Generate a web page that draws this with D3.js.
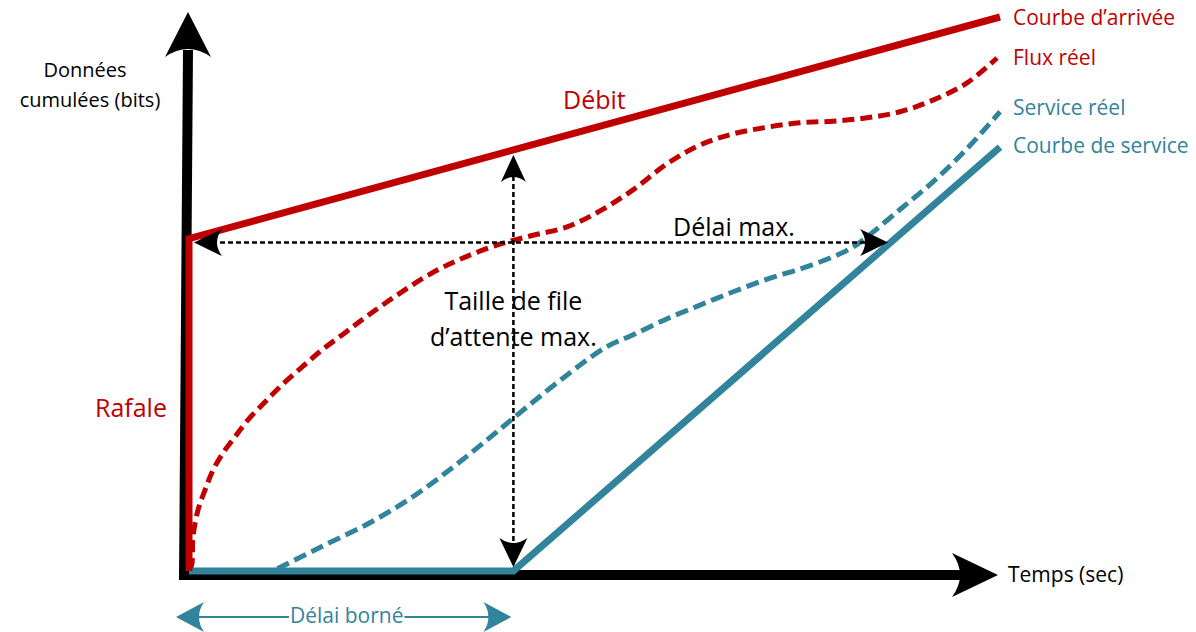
<!DOCTYPE html>
<html>
<head>
<meta charset="utf-8">
<script src="https://cdn.jsdelivr.net/npm/d3@7"></script>
<style>
  body { margin: 0; background: #fff; }
  text { font-family: "Open Sans", sans-serif; }
</style>
</head>
<body>
<script>
var width = 1196,
    height = 632;

var red = "#C00000",
    teal = "#31849B";

// courbe d'arrivée : rafale puis débit
var arrivalCurve = [[0, 0], [0, 60], [100, 100]];
// courbe de service : délai borné puis débit de service
var serviceCurve = [[0, 0], [40, 0], [100, 76.5]];

// flux réel
var fluxReel = [
  [0.15, 0.2], [0.37, 1.4], [0.49, 6.1], [1.11, 11.0], [1.97, 14.6], [2.96, 18.2],
  [4.19, 21.3], [5.67, 24.2], [7.27, 27.3], [9.37, 30.5], [11.47, 33.6],
  [13.93, 36.8], [16.40, 39.9], [19.24, 43.0], [21.95, 46.0], [25.65, 49.8],
  [29.72, 53.6], [33.79, 56.5], [38.35, 59.0], [42.42, 60.6], [46.61, 62.1],
  [50.68, 65.0], [54.75, 68.8], [58.94, 73.5], [63.01, 76.9], [67.08, 78.9],
  [71.27, 80.1], [75.34, 80.9], [79.41, 81.2], [83.60, 81.8], [87.67, 82.9],
  [91.74, 85.0], [95.93, 88.1], [99.63, 92.6]
];

// service réel
var serviceReel = [
  [10.9, 0.4], [16.2, 4.3], [22.3, 8.7], [27.6, 13.4], [32.6, 18.8], [36.7, 23.6],
  [40.0, 27.6], [46.1, 34.8], [51.4, 40.4], [54.7, 42.6], [58.9, 45.5], [63.0, 48.0],
  [67.1, 50.4], [71.3, 52.7], [75.3, 54.5], [79.4, 56.7], [81.9, 58.5], [83.6, 60.3],
  [87.7, 65.3], [91.7, 70.2], [95.9, 76.2], [100, 82.9]
];

var legendLabels = ["Courbe d\u2019arrivée", "Flux réel", "Service réel", "Courbe de service"];
var legendColors = [red, red, teal, teal];

var svg = d3.select("body").append("svg")
    .attr("width", width)
    .attr("height", height);

var x = d3.scaleLinear().domain([0, 100]).range([189, 1000]);
var y = d3.scaleLinear().domain([0, 100]).range([571, 17]);

var line = d3.line()
    .x(function(d) { return x(d[0]); })
    .y(function(d) { return y(d[1]); });

var smooth = d3.line()
    .x(function(d) { return x(d[0]); })
    .y(function(d) { return y(d[1]); })
    .curve(d3.curveCatmullRom.alpha(0.5));

// arrow head pointing along angle (deg), tip at (tx, ty)
function arrowHead(g, tx, ty, angle, L, W, N, color) {
  g.append("path")
    .attr("d", "M0,0L" + (-L) + "," + (-W) + "Q" + (-L + 2 * N) + ",0 " + (-L) + "," + W + "Z")
    .attr("transform", "translate(" + tx + "," + ty + ") rotate(" + angle + ")")
    .attr("fill", color);
}

// axes
var axes = svg.append("g");
axes.append("line")
    .attr("x1", x(0) - 5).attr("y1", y(0) + 9)
    .attr("x2", x(0) - 1).attr("y2", 50)
    .attr("stroke", "#000").attr("stroke-width", 10);
arrowHead(axes, x(0) - 1, 12, -90, 45, 23, 8, "#000");

axes.append("line")
    .attr("x1", x(0) - 10).attr("y1", y(0) + 4)
    .attr("x2", 960).attr("y2", y(0) + 4)
    .attr("stroke", "#000").attr("stroke-width", 10);
arrowHead(axes, 998, y(0) + 4, 0, 46, 22, 8, "#000");

// courbes
svg.append("path")
    .datum(serviceReel)
    .attr("d", smooth)
    .attr("fill", "none")
    .attr("stroke", teal)
    .attr("stroke-width", 5)
    .attr("stroke-dasharray", "13,6");

svg.append("path")
    .datum(fluxReel)
    .attr("d", smooth)
    .attr("fill", "none")
    .attr("stroke", red)
    .attr("stroke-width", 5)
    .attr("stroke-dasharray", "12,6");

svg.append("path")
    .datum(serviceCurve)
    .attr("d", line)
    .attr("fill", "none")
    .attr("stroke", teal)
    .attr("stroke-width", 7);

svg.append("path")
    .datum(arrivalCurve)
    .attr("d", line)
    .attr("fill", "none")
    .attr("stroke", red)
    .attr("stroke-width", 7)
    .attr("stroke-linejoin", "miter");

// délai max. (horizontal) et taille de file d'attente max. (vertical)
var burst = arrivalCurve[1][1],
    latency = serviceCurve[1][0],
    arrRate = (arrivalCurve[2][1] - arrivalCurve[1][1]) / (arrivalCurve[2][0] - arrivalCurve[1][0]),
    srvRate = (serviceCurve[2][1] - serviceCurve[1][1]) / (serviceCurve[2][0] - serviceCurve[1][0]);

var dly = y(burst) + 4,
    dx0 = x(0) + 5,
    dx1 = x(latency + burst / srvRate) - 7;

var marks = svg.append("g");
marks.append("line")
    .attr("x1", dx0 + 10).attr("y1", dly)
    .attr("x2", dx1 - 10).attr("y2", dly)
    .attr("stroke", "#000").attr("stroke-width", 2.5).attr("stroke-dasharray", "5,3");
arrowHead(marks, dx0, dly, 180, 28, 13.5, 5, "#000");
arrowHead(marks, dx1, dly, 0, 28, 13.5, 5, "#000");

var bx = x(latency),
    by0 = y(0) - 4,
    by1 = y(burst + arrRate * latency) + 5;
marks.append("line")
    .attr("x1", bx).attr("y1", by0 - 10)
    .attr("x2", bx).attr("y2", by1 + 10)
    .attr("stroke", "#000").attr("stroke-width", 2.5).attr("stroke-dasharray", "5,3");
arrowHead(marks, bx, by0, 90, 29, 14, 5, "#000");
arrowHead(marks, bx, by1, -90, 27, 12.5, 5, "#000");

// délai borné
var dbY = 617;
var dbText = svg.append("text")
    .attr("x", (x(0) - 13 + bx) / 2 + 2)
    .attr("y", 623)
    .attr("text-anchor", "middle")
    .attr("font-size", 21)
    .attr("fill", teal)
    .text("Délai borné");
var bb = dbText.node().getBBox();
svg.append("line")
    .attr("x1", x(0) - 3).attr("y1", dbY)
    .attr("x2", bb.x - 1).attr("y2", dbY)
    .attr("stroke", teal).attr("stroke-width", 2);
svg.append("line")
    .attr("x1", bb.x + bb.width + 1).attr("y1", dbY)
    .attr("x2", bx - 20).attr("y2", dbY)
    .attr("stroke", teal).attr("stroke-width", 2);
arrowHead(svg, x(0) - 13, dbY, 180, 28, 15, 5, teal);
arrowHead(svg, bx - 2, dbY, 0, 28, 15, 5, teal);

// textes
svg.append("text")
    .attr("x", 85).attr("y", 77)
    .attr("text-anchor", "middle")
    .attr("font-size", 20)
    .text("Données");
svg.append("text")
    .attr("x", 90).attr("y", 107)
    .attr("text-anchor", "middle")
    .attr("font-size", 20)
    .text("cumulées (bits)");

svg.append("text")
    .attr("x", 1008).attr("y", 582)
    .attr("font-size", 21)
    .text("Temps (sec)");

svg.append("text")
    .attr("x", 563).attr("y", 109)
    .attr("font-size", 25)
    .attr("fill", red)
    .text("Débit");

svg.append("text")
    .attr("x", 95).attr("y", 417)
    .attr("font-size", 25)
    .attr("fill", red)
    .text("Rafale");

svg.append("text")
    .attr("x", bx).attr("y", 310)
    .attr("text-anchor", "middle")
    .attr("font-size", 25)
    .text("Taille de file");
svg.append("text")
    .attr("x", bx).attr("y", 346)
    .attr("text-anchor", "middle")
    .attr("font-size", 25)
    .text("d\u2019attente max.");

svg.append("text")
    .attr("x", 673).attr("y", 236)
    .attr("font-size", 25)
    .text("Délai max.");

var legendY = [25, 65, 115, 153];
svg.selectAll(".legend")
    .data(legendLabels)
    .enter().append("text")
    .attr("class", "legend")
    .attr("x", 1013)
    .attr("y", function(d, i) { return legendY[i]; })
    .attr("font-size", 21)
    .attr("fill", function(d, i) { return legendColors[i]; })
    .text(function(d) { return d; });
</script>
</body>
</html>
